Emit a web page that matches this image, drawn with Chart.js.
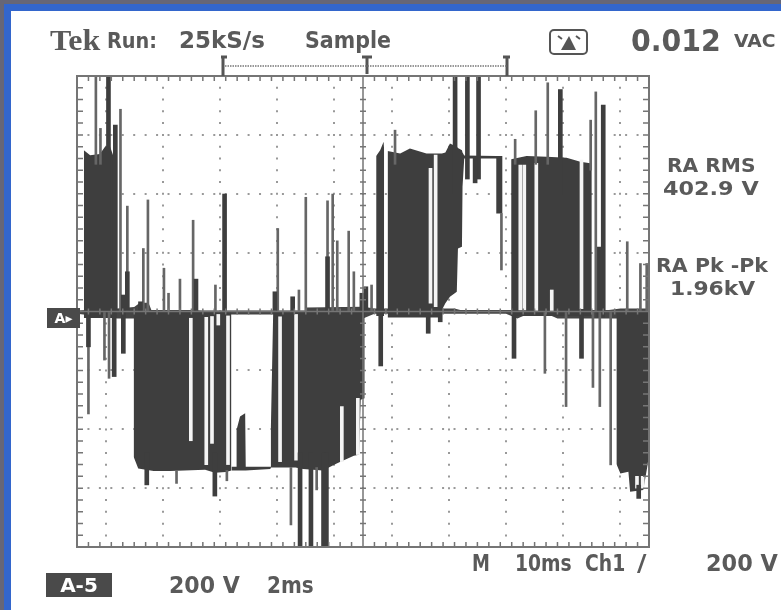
<!DOCTYPE html>
<html>
<head>
<meta charset="utf-8">
<title>Tek scope capture</title>
<script src="https://cdn.jsdelivr.net/npm/chart.js@4"></script>
<style>
    html, body { margin: 0; padding: 0; background: #fff; }
    #page { position: relative; width: 781px; height: 610px; overflow: hidden; background: #fff; }
    #bar-top { position: absolute; left: 0; top: 0; width: 781px; height: 4px; background: #666677; }
    #blue-top { position: absolute; left: 4px; top: 4px; width: 777px; height: 7px; background: #3366cc; }
    #bar-left { position: absolute; left: 0; top: 0; width: 4px; height: 610px; background: #666677; }
    #blue-left { position: absolute; left: 4px; top: 4px; width: 7px; height: 606px; background: #3366cc; }
    canvas { position: absolute; left: 0; top: 0; filter: blur(0.6px); }
    .t { position: absolute; color: #5a5a5a; font-family: "DejaVu Sans", sans-serif; font-weight: bold; white-space: nowrap; line-height: 1; filter: blur(0.5px); transform-origin: left center; }
    .box { background: #4a4a4a; color: #fff; text-align: center; }
    svg { position: absolute; filter: blur(0.4px); }
</style>
</head>
<body>
<div id="page">
    <canvas id="scope" width="781" height="610"></canvas>
    <div id="bar-top"></div><div id="blue-top"></div><div id="bar-left"></div><div id="blue-left"></div>

    <div class="t" data-w="50" style="left:50px;top:25px;font-size:30px;font-family:'Liberation Serif',serif">Tek</div>
    <div class="t" data-w="50" style="left:107px;top:30px;font-size:22px">Run:</div>
    <div class="t" data-w="86" style="left:179px;top:29px;font-size:23px">25kS/s</div>
    <div class="t" data-w="86" style="left:305px;top:29px;font-size:23px">Sample</div>
    <div class="t" data-w="90" style="left:631px;top:26px;font-size:30px">0.012</div>
    <div class="t" data-w="42" style="left:734px;top:33px;font-size:17px">VAC</div>

    <svg style="left:548px;top:28px" width="44" height="28">
        <rect x="2" y="2" width="37" height="24" rx="4" fill="none" stroke="#555" stroke-width="2"/>
        <path d="M13 22 L21 8 L28 22 Z" fill="#555"/>
        <path d="M10 8 L14 11 M28 8 L32 11" stroke="#555" stroke-width="2"/>
    </svg>
    <svg style="left:215px;top:54px" width="300" height="24">
        <path d="M8 3 V22 M12 3 H6 M292 3 V22 M295 3 H288 M152 3 V20 M147 3 H157" stroke="#555" stroke-width="3" fill="none"/>
        <path d="M10 12 H292" stroke="#777" stroke-width="1.5" stroke-dasharray="1.5 1"/>
    </svg>

    <div class="t" data-w="89" style="left:667px;top:155px;font-size:20px">RA RMS</div>
    <div class="t" data-w="96" style="left:663px;top:178px;font-size:20px">402.9 V</div>
    <div class="t" data-w="112" style="left:656px;top:255px;font-size:20px">RA Pk -Pk</div>
    <div class="t" data-w="85" style="left:670px;top:278px;font-size:20px">1.96kV</div>

    <div class="t box" style="left:47px;top:308px;width:33px;height:20px;font-size:14px;line-height:20px">A▸</div>

    <div class="t" data-w="18" style="left:472px;top:552px;font-size:23px">M</div>
    <div class="t" data-w="57" style="left:515px;top:552px;font-size:23px">10ms</div>
    <div class="t" data-w="40" style="left:585px;top:552px;font-size:23px">Ch1</div>
    <div class="t" data-w="9" style="left:637px;top:552px;font-size:23px">/</div>
    <div class="t" data-w="72" style="left:706px;top:552px;font-size:23px">200 V</div>

    <div class="t box" style="left:46px;top:573px;width:66px;height:24px;font-size:20px;line-height:24px">A-5</div>
    <div class="t" data-w="71" style="left:169px;top:574px;font-size:23px">200 V</div>
    <div class="t" data-w="47" style="left:267px;top:574px;font-size:23px">2ms</div>
</div>

<script>
// time in ms (10 ms/div), volts (200 V/div)
const traceT = [1.2, 2.3, 4.0, 4.9, 5.7, 6.4, 6.9, null,
    9.9, 10.7, 13.4, 16.3, 22.4, 24.1, 26.0, 27.0, null,
    27.0, 27.8, 27.9, 28.5, 29.4, 29.5, 33.8, 33.9, 34.3, 36.0, 38.2, 39.5, 43.0, 45.4, 48.4, 49.3, 49.6, 50.3, null,
    52.3, 53.0, 53.6, 53.7, null,
    54.3, 56.5, 58.2, 61.1, 63.2, 63.8, 64.4, 65.2, 66.4, 66.6, 67.3, 67.4, 67.7, 73.3, 73.4, 74.4, null,
    75.9, 78.6, 82.1, 85.6, 88.0, 90.0, null,
    90.8, 92.3, null,
    94.3, 95.0, 96.4, 96.7, 99.0, 99.7, 99.9];
const traceHi = [548, 531, 535, 560, 565, 526, 530, null,
    0, 0, 0, 0, 0, 0, 0, 0, null,
    -527, -527, -402, -357, -346, -527, -527, -391, 0, 0, 0, 0, 0, 0, 0, 0, 0, 0, null,
    528, 548, 577, 548, null,
    545, 537, 554, 537, 537, 537, 540, 571, 560, 555, 548, 540, 530, 528, 528, 528, null,
    517, 528, 526, 522, 509, 503, null,
    220, 220, null,
    0, 0, 0, 0, 0, 0, 0];
const traceLo = [-22, -22, -22, -22, -22, -22, -22, null,
    -493, -533, -542, -542, -538, -548, -545, -540, null,
    -540, -540, -540, -540, -540, -540, -535, -530, -530, -530, -530, -535, -540, -516, -490, -487, -300, -295, null,
    -15, -15, -15, -15, null,
    -20, -20, -20, -20, -20, 5, 28, 50, 67, 214, 220, 424, 520, 520, 333, 333, null,
    -15, -15, -15, -15, -15, -15, null,
    -20, -20, null,
    -518, -550, -544, -612, -606, -527, -500];

const bandT = [0, 7, 10, 11, 12.5, 13, 20, 22, 33, 40, 40.1, 50, 52, 66, 67, 75, 77, 78, 83, 84, 93, 95, 100];
const bandHi = [3, 10, 15, 30, 30, 5, 5, 3, 3, 3, 14, 16, 10, 10, 5, 5, 5, 5, 5, 5, 5, 10, 10];
const bandLo = [-8, -24, -24, -24, -24, -22, -22, -10, -10, -10, -24, -24, -8, -8, -8, -8, -24, -15, -15, -24, -24, -24, -24];

// [t, low, high]
const thinSpikes = [[3.3, 500, 797], [4.1, 500, 622], [7.6, 0, 687], [8.8, 0, 358], [11.6, 0, 214], [12.4, 0, 379],
    [15.2, 0, 147], [16.0, 0, 62], [18.0, 0, 110], [20.3, 0, 310], [24.2, 0, 90], [35.1, 0, 282], [38.8, 0, 73],
    [40.0, 0, 388], [43.8, 0, 376], [44.7, 0, 399], [45.5, 0, 240], [47.5, 0, 273], [48.4, 0, 135], [51.5, 0, 90],
    [55.6, 500, 616], [76.6, 500, 585], [80.2, 500, 682], [82.3, 500, 777], [89.8, 480, 650], [90.7, 0, 746], [96.2, 0, 237],
    [98.5, 0, 163], [99.6, 0, 163],
    [2.0, -348, 0], [4.8, -165, 0], [5.6, -227, 0], [17.4, -584, -540], [26.2, -575, -540], [37.4, -725, -530],
    [41.9, -606, -530], [74.2, 141, 333], [81.8, -210, 0], [85.5, -323, 0], [90.2, -258, 0], [91.4, -323, 0], [93.3, -521, 0]];
const thickSpikes = [[5.5, 0, 797], [6.7, 0, 633], [8.1, 0, 56], [8.1, -142, 0], [8.8, 0, 135], [11.1, 0, 33],
    [20.8, 0, 110], [25.8, 0, 399], [34.6, 0, 67], [37.7, 0, 50], [43.8, 0, 186], [49.8, 0, 62], [50.5, 0, 84],
    [66.1, 400, 797], [68.25, 450, 797], [70.2, 450, 797], [69.6, 437, 526], [84.5, 400, 754], [92.0, 0, 701],
    [2.0, -120, 0], [6.5, -221, 0], [12.2, -589, -480], [24.1, -627, -480], [39.0, -799, -480], [40.9, -799, -480],
    [43.1, -799, -480], [43.6, -799, -480], [53.1, -185, 0], [61.4, -74, 0], [63.5, -35, 0], [76.4, -159, 0],
    [88.2, -159, 0], [98.2, -635, -590]];
const whiteSlits = [[19.9, -439, -23], [22.6, -520, -20], [23.6, -448, -17], [24.7, -46, -10], [26.4, -520, -15],
    [35.5, -510, -18], [38.3, -505, -10], [46.3, -510, -323], [49.1, -486, -295], [61.8, 28, 486], [62.7, 16, 531],
    [77.5, 5, 497], [78.2, 5, 497], [80.3, 0, 503], [83.0, 0, 73], [88.2, 10, 514], [97.9, -600, -560], [98.9, -600, -560]];

const toPoints = (xs, ys) => xs.map((x, i) => ({ x: x === null ? NaN : x, y: ys[i] === null ? NaN : ys[i] }));
const toBars = list => list.map(s => ({ x: s[0], y: [s[1], s[2]] }));

// squeeze each label to the width it has on the scope screen
document.querySelectorAll('.t[data-w]').forEach(el => {
    el.style.transform = 'scaleX(' + (el.dataset.w / el.offsetWidth) + ')';
});

// frame, centre cross and the little graticule ticks
const graticule = {
    id: 'graticule',
    afterDatasetsDraw(chart) {
        const c = chart.ctx, xs = chart.scales.x, ys = chart.scales.y;
        const a = chart.chartArea;
        const x0 = xs.getPixelForValue(50), y0 = ys.getPixelForValue(0);
        c.save();
        c.strokeStyle = '#757575';
        c.lineWidth = 1.5;
        c.beginPath();
        c.moveTo(a.left, y0); c.lineTo(a.right, y0);
        c.moveTo(x0, a.top); c.lineTo(x0, a.bottom);
        for (let t = 0; t <= 100; t += 2) {
            const x = xs.getPixelForValue(t);
            c.moveTo(x, a.top); c.lineTo(x, a.top + 5);
            c.moveTo(x, a.bottom); c.lineTo(x, a.bottom - 5);
            c.moveTo(x, y0 - 3); c.lineTo(x, y0 + 3);
        }
        for (let v = -800; v <= 800; v += 40) {
            const y = ys.getPixelForValue(v);
            c.moveTo(a.left, y); c.lineTo(a.left + 6, y);
            c.moveTo(a.right, y); c.lineTo(a.right - 6, y);
            c.moveTo(x0 - 3, y); c.lineTo(x0 + 3, y);
        }
        c.stroke();
        c.lineWidth = 2;
        c.strokeRect(a.left, a.top, a.right - a.left, a.bottom - a.top);
        c.restore();
    }
};

new Chart(document.getElementById('scope').getContext('2d'), {
    type: 'bar',
    plugins: [graticule],
    data: {
        datasets: [
            { type: 'line', data: toPoints(bandT, bandHi), order: 8, pointRadius: 0, borderWidth: 0, fill: '+1', backgroundColor: '#454545', tension: 0 },
            { type: 'line', data: toPoints(bandT, bandLo), order: 8, pointRadius: 0, borderWidth: 0, fill: false, tension: 0 },
            { type: 'line', data: toPoints(traceT, traceHi), order: 6, pointRadius: 0, borderWidth: 0, fill: '+1', backgroundColor: '#3e3e3e', tension: 0, spanGaps: false },
            { type: 'line', data: toPoints(traceT, traceLo), order: 6, pointRadius: 0, borderWidth: 0, fill: false, tension: 0, spanGaps: false },
            { data: toBars(whiteSlits), order: 4, backgroundColor: '#f4f4f4', barThickness: 3, grouped: false },
            { data: toBars(thinSpikes), order: 2, backgroundColor: '#666666', barThickness: 2, grouped: false },
            { data: toBars(thickSpikes), order: 1, backgroundColor: '#3e3e3e', barThickness: 4, grouped: false }
        ]
    },
    options: {
        responsive: false,
        animation: false,
        events: [],
        layout: { padding: { left: 77, top: 76, right: 132, bottom: 63 } },
        plugins: { legend: { display: false }, tooltip: { enabled: false } },
        scales: {
            x: {
                type: 'linear', min: 0, max: 100, offset: false,
                ticks: { display: false, stepSize: 10 },
                grid: { color: '#999999', lineWidth: 2, drawTicks: false },
                border: { display: false, dash: [2, 9.78], dashOffset: 1 }
            },
            y: {
                min: -800, max: 800,
                ticks: { display: false, stepSize: 200 },
                grid: { color: '#999999', lineWidth: 2, drawTicks: false },
                border: { display: false, dash: [2, 9.44], dashOffset: 1 }
            }
        }
    }
});
</script>
</body>
</html>
